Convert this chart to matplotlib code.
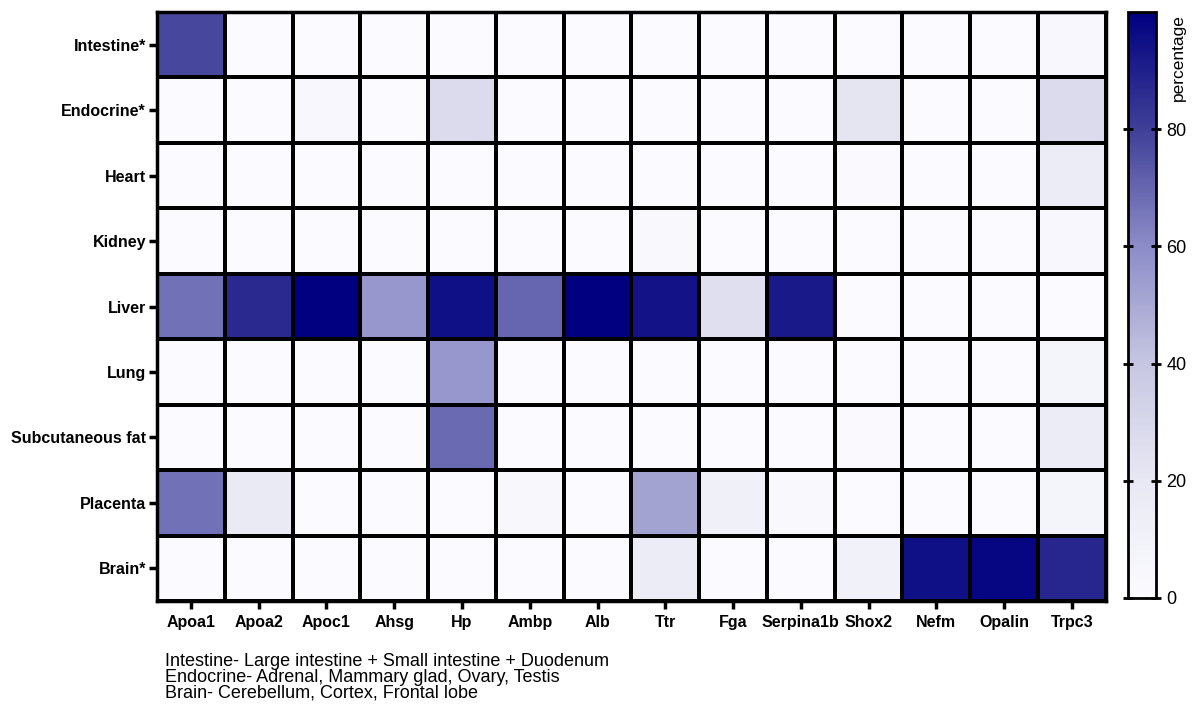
import numpy as np
import matplotlib
matplotlib.use("Agg")
import matplotlib.pyplot as plt
from matplotlib.colors import LinearSegmentedColormap

plt.rcParams['font.family'] = ['Liberation Sans', 'DejaVu Sans']

# 組織ごとの遺伝子発現割合 (%)
genes = ["Apoa1", "Apoa2", "Apoc1", "Ahsg", "Hp", "Ambp", "Alb", "Ttr",
         "Fga", "Serpina1b", "Shox2", "Nefm", "Opalin", "Trpc3"]
tissues = ["Intestine*", "Endocrine*", "Heart", "Kidney", "Liver", "Lung",
           "Subcutaneous fat", "Placenta", "Brain*"]

intestine   = [78, 0, 0, 0, 0, 0, 0, 0, 0, 0, 0, 0, 0, 4]
endocrine   = [0, 0, 4, 0, 28, 0, 0, 0, 0, 0, 22, 0, 0, 28]
heart       = [0, 0, 0, 0, 0, 0, 0, 0, 0, 0, 2, 0, 0, 16]
kidney      = [0, 0, 0, 0, 0, 0, 0, 3, 0, 0, 1, 0, 0, 4]
liver       = [67, 87, 100, 56, 95, 70, 100, 94, 25, 92, 0, 0, 0, 0]
lung        = [0, 0, 0, 0, 56, 0, 0, 0, 0, 0, 1, 0, 0, 8]
subcut_fat  = [0, 0, 1, 0, 69, 0, 0, 0, 0, 1, 2, 0, 0, 16]
placenta    = [67, 18, 0, 0, 0, 5, 0, 52, 12, 3, 0, 0, 0, 8]
brain       = [0, 0, 0, 0, 0, 0, 0, 16, 0, 0, 11, 95, 98, 88]

footnote = ["Intestine- Large intestine + Small intestine + Duodenum",
            "Endocrine- Adrenal, Mammary glad, Ovary, Testis",
            "Brain- Cerebellum, Cortex, Frontal lobe"]

data = np.array([intestine, endocrine, heart, kidney, liver, lung,
                 subcut_fat, placenta, brain], dtype=float)

# 白→ネイビーのカラーマップ
cmap = LinearSegmentedColormap.from_list(
    "white_navy",
    [(0.0, "#fbfbff"), (0.2, "#e8e8f4"), (0.4, "#c6c6e2"),
     (0.6, "#8c8cc8"), (0.8, "#404098"), (1.0, "#000080")])

fig = plt.figure(figsize=(11.92, 7.09), dpi=100)
ax = fig.add_axes([0.1317, 0.1523, 0.796, 0.8307])
cax = fig.add_axes([0.9463, 0.1566, 0.0235, 0.8264])

mesh = ax.pcolormesh(data, cmap=cmap, vmin=0, vmax=100,
                     edgecolors="black", linewidth=1.6)
ax.set_xlim(0, len(genes))
ax.set_ylim(len(tissues), 0)

ax.set_xticks(np.arange(len(genes)) + 0.5)
ax.set_xticklabels(genes, fontsize=11.5, fontweight="bold")
ax.set_yticks(np.arange(len(tissues)) + 0.5)
ax.set_yticklabels(tissues, fontsize=11.5, fontweight="bold")
ax.tick_params(axis="both", length=6, width=2.5, direction="out", pad=2)
ax.tick_params(axis="x", pad=4)
for s in ax.spines.values():
    s.set_linewidth(2.5)

cb = fig.colorbar(mesh, cax=cax)
cb.set_ticks([0, 20, 40, 60, 80])
cb.outline.set_linewidth(2)
cax.tick_params(length=7, width=2, labelsize=13, pad=4, direction="inout",
                left=True, right=True)
cax.text(1.55, 0.997, "percentage", rotation=90, ha="left", va="top",
         fontsize=12.5, transform=cax.transAxes)

for i, line in enumerate(footnote):
    fig.text(0.1384, 0.0677 - i * 0.0226, line, fontsize=13, va="center")

fig.savefig("out.png", dpi=100)
